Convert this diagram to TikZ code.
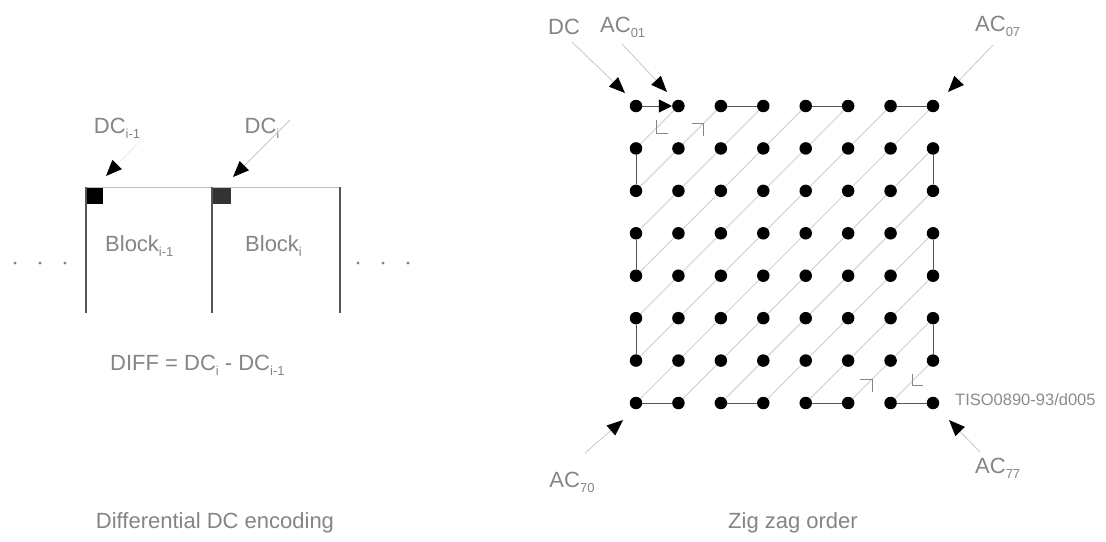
\documentclass[tikz,border=0pt]{standalone}
\usepackage{fontspec}
\setmainfont{Liberation Sans}
\usetikzlibrary{arrows.meta}
\pgfdeclarelayer{back}
\pgfdeclarelayer{bg}
\pgfsetlayers{back,bg,main}
\definecolor{txt}{HTML}{858585}
\definecolor{segc}{HTML}{555555}
\definecolor{diagc}{HTML}{D0D0D0}
\definecolor{shaftc}{HTML}{C8C8C8}
\newcommand{\sbs}[1]{\raisebox{-0.45ex}{\fontsize{13}{13}\selectfont #1}}
\begin{document}
\begin{tikzpicture}[x=1pt,y=-1pt,
 lbl/.style={inner sep=0, text=txt, font=\fontsize{22}{26}\selectfont},
 dotn/.style={circle, fill=black, inner sep=0, minimum size=12.5pt},
 segl/.style={draw=segc, line width=1pt},
 diagl/.style={draw=diagc, line width=0.9pt},
 bigarr/.style={draw=shaftc, line width=0.8pt, -{Triangle[length=16pt,width=13pt,color=black]}},
 markl/.style={draw=txt, line width=0.9pt},
 blk/.style={draw=segc, line width=1.1pt},
]
\begin{pgfonlayer}{back}
\fill[white] (0,0) rectangle (1106,541);
\end{pgfonlayer}
\useasboundingbox (0,0) rectangle (1106,541);

% ---------------- left part ----------------
\node[fill=black, minimum width=17pt, minimum height=17pt, inner sep=0, anchor=north west] (sq1) at (86,187) {};
\node[fill=black!80, minimum width=19pt, minimum height=17pt, inner sep=0, anchor=north west] (sq2) at (212,187) {};
\coordinate (b1nw) at (86,187);
\coordinate (b1sw) at (86,313);
\coordinate (bm) at (212,187);
\coordinate (bms) at (212,313);
\coordinate (b2ne) at (340,187);
\coordinate (b2se) at (340,313);
\draw[draw=black!25, line width=0.8pt] (b1nw) -- (b2ne);
\draw[blk] (b1nw) -- (b1sw);
\draw[blk] (bm) -- (bms);
\draw[blk] (b2ne) -- (b2se);

\node[lbl, anchor=west] (blk1) at (105,246) {Block\sbs{i-1}};
\node[lbl, anchor=west] (blk2) at (245,246) {Block\sbs{i}};
\foreach \x in {15,40,65,358,383,408} \fill[txt] (\x,263) circle (1.6);

\node[lbl] (dci1) at (117,128) {DC\sbs{i-1}};
\node[lbl] (dci) at (262,128) {DC\sbs{i}};
\coordinate (s1) at (140,141);
\coordinate (t1) at (106,176);
\coordinate (s2) at (290,120);
\coordinate (t2) at (233,177);
\draw[bigarr, draw=black!8] (s1) -- (t1);
\draw[bigarr] (s2) -- (t2);

\node[lbl, anchor=west] (diff) at (110,365) {DIFF = DC\sbs{i} - DC\sbs{i-1}};
\node[lbl] (cap1) at (215,523) {Differential DC encoding};

% ---------------- right part ----------------
\foreach \r in {0,...,7}
  \foreach \c in {0,...,7}
    \node[dotn] (d\r\c) at ({636+42.43*\c},{106+42.43*\r}) {};

\begin{pgfonlayer}{bg}
\draw[diagl] (d01) -- (d10);
\draw[diagl] (d20) -- (d02);
\draw[diagl] (d03) -- (d30);
\draw[diagl] (d40) -- (d04);
\draw[diagl] (d05) -- (d50);
\draw[diagl] (d60) -- (d06);
\draw[diagl] (d07) -- (d70);
\draw[diagl] (d71) -- (d17);
\draw[diagl] (d27) -- (d72);
\draw[diagl] (d73) -- (d37);
\draw[diagl] (d47) -- (d74);
\draw[diagl] (d75) -- (d57);
\draw[diagl] (d67) -- (d76);
\end{pgfonlayer}

\draw[segl, -{Triangle[length=13pt,width=13pt,color=black]}] (d00) -- (d01);
\draw[segl] (d02) -- (d03);
\draw[segl] (d04) -- (d05);
\draw[segl] (d06) -- (d07);
\draw[segl] (d10) -- (d20);
\draw[segl] (d30) -- (d40);
\draw[segl] (d50) -- (d60);
\draw[segl] (d17) -- (d27);
\draw[segl] (d37) -- (d47);
\draw[segl] (d57) -- (d67);
\draw[segl] (d70) -- (d71);
\draw[segl] (d72) -- (d73);
\draw[segl] (d74) -- (d75);
\draw[segl] (d76) -- (d77);

% direction marks on diagonals
\draw[markl] (656,120) -- (656,133) -- (668,133);
\draw[markl] (692,123) -- (703,123) -- (703,136);
\draw[markl] (860,379) -- (872,379) -- (872,392);
\draw[markl] (912,374) -- (912,385) -- (923,385);

% labels and arrows
\node[lbl, anchor=west] (dc) at (548,27) {DC};
\node[lbl, anchor=west] (ac01) at (600,27) {AC\sbs{01}};
\node[lbl, anchor=west] (ac07) at (975,26) {AC\sbs{07}};
\node[lbl] (ac70) at (572,482) {AC\sbs{70}};
\node[lbl, anchor=west] (ac77) at (975,468) {AC\sbs{77}};

\coordinate (sa) at (572,42);
\coordinate (ta) at (625,93);
\coordinate (sb) at (622,44);
\coordinate (tb) at (667,92);
\coordinate (sc) at (993,45);
\coordinate (tc) at (948,92);
\coordinate (sd) at (585,453);
\coordinate (td) at (623,420);
\coordinate (se) at (980,452);
\coordinate (te) at (949,420);
\draw[bigarr] (sa) -- (ta);
\draw[bigarr] (sb) -- (tb);
\draw[bigarr] (sc) -- (tc);
\draw[bigarr] (sd) -- (td);
\draw[bigarr] (se) -- (te);

\node[inner sep=0, text=black!45, font=\fontsize{16.5}{18}\selectfont, anchor=west] (tiso) at (955,400) {TISO0890-93/d005};
\node[lbl] (cap2) at (793,523) {Zig zag order};
\end{tikzpicture}
\end{document}
